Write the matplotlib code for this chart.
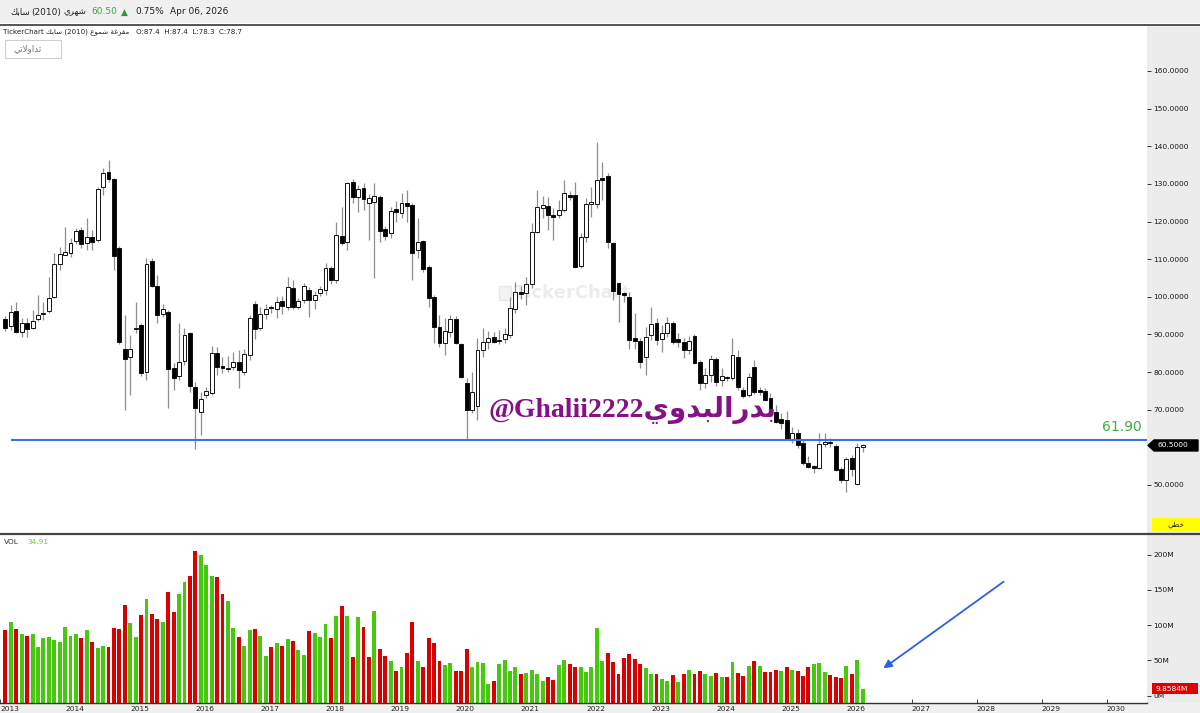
import numpy as np
import matplotlib.pyplot as plt
from matplotlib.patches import Rectangle, Polygon
from matplotlib.lines import Line2D
from matplotlib.transforms import blended_transform_factory

# monthly candles, Feb 2013 .. Apr 2026 (month index 1 = Feb 2013)
opens = [94.1, 92.3, 96.2, 90.7, 93.0, 91.7, 94.1, 95.4, 96.2, 100.0,
         108.7, 111.2, 111.6, 114.8, 117.8, 114.3, 115.9, 115.1, 129.2, 133.2,
         131.3, 113.0, 86.1, 84.0, 91.4, 92.5, 80.0, 109.5, 102.9, 95.4,
         96.0, 81.1, 79.0, 83.0, 90.4, 76.0, 69.4, 74.0, 74.5, 85.1,
         81.5, 80.9, 81.4, 82.7, 80.0, 84.5, 98.1, 91.7, 95.4, 97.1,
         96.8, 98.9, 97.3, 102.4, 97.3, 99.2, 101.8, 99.2, 101.0, 101.8,
         107.7, 104.5, 116.2, 114.6, 130.5, 126.5, 128.9, 124.9, 125.2, 126.5,
         118.0, 117.0, 123.3, 122.3, 125.0, 124.4, 112.4, 114.8, 107.9, 100.0,
         92.0, 87.7, 90.6, 94.1, 87.5, 77.1, 69.9, 71.0, 85.9, 88.0,
         89.3, 88.2, 88.8, 89.9, 96.8, 101.3, 101.0, 103.4, 117.2, 123.6,
         124.1, 121.8, 121.8, 123.1, 127.1, 127.0, 108.2, 115.9, 124.6, 124.7,
         131.6, 132.1, 114.3, 103.7, 101.1, 100.0, 89.1, 88.3, 84.0, 89.9,
         93.0, 88.8, 90.4, 93.0, 88.8, 88.0, 85.9, 89.6, 82.7, 77.1,
         79.3, 83.5, 77.9, 78.3, 78.4, 84.0, 75.2, 73.9, 81.4, 75.2,
         74.9, 73.1, 69.4, 67.5, 67.3, 62.0, 63.8, 61.1, 55.9, 55.0,
         54.6, 60.9, 61.5, 60.4, 54.3, 51.3, 57.1, 50.3, 60.2]
highs = [95.0, 97.8, 98.6, 94.4, 94.4, 96.5, 100.5, 98.6, 105.3, 111.6,
         113.2, 118.5, 115.6, 118.3, 118.5, 120.9, 117.8, 129.1, 134.2, 136.4,
         131.6, 113.5, 95.2, 89.9, 98.6, 93.0, 110.3, 110.3, 105.8, 98.1,
         96.5, 82.4, 93.0, 91.7, 90.6, 77.4, 74.7, 76.0, 87.0, 86.7,
         84.0, 84.4, 85.3, 85.9, 86.0, 95.2, 98.9, 97.4, 98.1, 97.8,
         100.0, 100.2, 105.3, 104.5, 99.7, 103.7, 102.6, 101.6, 103.0, 109.0,
         108.2, 119.9, 123.9, 130.5, 131.3, 129.7, 130.2, 127.3, 130.2, 127.0,
         118.8, 123.9, 125.4, 127.6, 128.4, 124.9, 120.9, 115.1, 108.5, 100.5,
         95.2, 94.4, 95.2, 94.9, 87.7, 78.4, 80.0, 89.1, 91.7, 90.9,
         90.6, 91.2, 91.7, 100.0, 103.9, 102.9, 105.3, 119.6, 128.4, 126.8,
         126.5, 123.6, 125.7, 131.0, 128.1, 130.5, 117.0, 126.2, 129.2, 141.1,
         135.8, 132.9, 114.6, 103.9, 101.3, 101.3, 95.7, 89.1, 92.0, 97.3,
         94.4, 92.5, 94.6, 93.6, 90.4, 89.1, 89.6, 90.1, 83.2, 81.1,
         84.6, 84.0, 81.1, 79.0, 89.1, 85.9, 76.0, 79.8, 83.2, 76.0,
         75.8, 74.4, 71.3, 69.0, 69.6, 65.4, 65.0, 62.0, 57.6, 55.3,
         63.8, 63.8, 62.6, 60.9, 54.8, 57.4, 57.9, 61.2, 60.9]
lows = [91.0, 91.2, 90.4, 89.3, 89.3, 91.5, 93.6, 93.9, 95.7, 99.7,
        107.1, 111.0, 110.6, 114.0, 112.9, 112.4, 112.4, 114.6, 127.1, 130.5,
        107.1, 87.5, 69.9, 73.9, 90.4, 79.0, 77.9, 102.6, 93.0, 94.6,
        70.5, 75.2, 77.9, 81.9, 74.7, 59.6, 63.3, 73.2, 74.0, 79.3,
        79.8, 80.0, 80.6, 75.8, 79.3, 83.2, 88.8, 91.2, 94.1, 95.7,
        94.4, 95.5, 96.5, 96.8, 96.8, 98.4, 94.6, 96.8, 100.2, 100.5,
        103.4, 103.7, 113.8, 112.4, 124.9, 122.5, 123.0, 115.1, 105.0, 114.6,
        115.1, 115.6, 119.9, 121.0, 119.9, 104.5, 110.3, 106.6, 97.3, 87.7,
        86.7, 84.5, 89.3, 87.4, 78.4, 61.9, 69.1, 67.3, 84.0, 86.1,
        87.7, 87.5, 87.7, 89.1, 95.7, 99.4, 97.8, 102.4, 117.0, 121.0,
        117.8, 115.1, 120.9, 122.5, 125.7, 107.7, 107.7, 114.6, 121.2, 123.6,
        125.7, 112.9, 99.2, 93.3, 98.6, 86.1, 86.1, 81.1, 79.3, 88.5,
        87.2, 85.3, 89.3, 87.5, 86.7, 83.8, 84.8, 82.2, 75.2, 75.8,
        77.4, 76.3, 76.3, 77.6, 77.9, 75.2, 73.2, 73.4, 74.2, 74.0,
        72.3, 68.1, 66.5, 65.0, 61.9, 61.2, 59.9, 55.3, 54.6, 53.3,
        54.3, 60.1, 60.1, 53.6, 50.5, 48.1, 52.5, 50.0, 58.8]
closes = [91.7, 96.0, 90.7, 93.1, 91.5, 93.6, 95.2, 95.8, 99.7, 108.7,
          111.4, 111.8, 114.3, 117.5, 114.0, 115.9, 114.6, 128.6, 132.9, 131.3,
          110.8, 88.0, 83.5, 86.1, 91.6, 79.8, 108.7, 102.9, 95.2, 96.8,
          80.8, 78.4, 82.7, 89.9, 76.3, 70.5, 72.9, 75.0, 85.1, 81.4,
          81.1, 81.1, 82.7, 80.6, 84.8, 94.4, 91.5, 95.4, 96.8, 96.9,
          98.6, 97.6, 102.6, 97.3, 98.9, 102.9, 99.2, 100.5, 102.1, 107.7,
          104.5, 116.4, 114.3, 130.2, 126.5, 128.6, 126.0, 126.2, 126.8, 117.5,
          116.2, 122.8, 122.5, 124.9, 124.1, 111.6, 114.6, 107.4, 99.7, 92.0,
          87.7, 90.9, 94.1, 87.7, 78.7, 69.9, 74.7, 85.9, 88.0, 89.1,
          88.0, 88.4, 90.1, 97.0, 101.3, 100.8, 103.4, 117.2, 123.9, 124.4,
          121.8, 121.2, 123.1, 127.6, 126.5, 107.9, 115.9, 124.7, 125.2, 131.0,
          131.0, 114.6, 101.6, 100.8, 100.5, 88.5, 88.3, 82.7, 89.3, 92.8,
          88.5, 90.4, 93.0, 88.0, 88.0, 85.9, 88.3, 82.4, 77.1, 79.3,
          83.5, 77.4, 79.0, 78.5, 84.6, 76.0, 73.7, 78.7, 74.7, 74.7,
          72.6, 69.1, 66.7, 66.5, 62.0, 63.8, 60.6, 55.9, 54.8, 54.6,
          60.9, 61.5, 61.1, 54.0, 51.3, 56.9, 54.3, 60.05, 60.5]

# volume in millions
volumes = [93.2, 104.5, 94.2, 87.1, 84.7, 88.0, 68.6, 81.8, 83.7, 78.6,
           76.2, 97.9, 84.7, 87.1, 81.8, 92.8, 76.2, 67.7, 70.5, 69.5,
           95.6, 94.6, 128.7, 103.1, 83.7, 114.5, 136.7, 115.5, 108.4, 104.5,
           146.7, 119.1, 144.3, 160.8, 169.4, 205.2, 199.6, 185.8, 169.4, 167.9,
           144.3, 134.3, 95.6, 82.8, 70.0, 93.2, 94.6, 84.7, 56.3, 68.6,
           74.8, 70.5, 80.4, 77.1, 64.4, 57.7, 91.8, 89.4, 82.8, 101.3,
           81.8, 112.6, 126.8, 112.6, 54.5, 111.2, 97.0, 54.5, 120.1, 66.2,
           56.3, 48.8, 34.6, 41.2, 60.1, 105.0, 49.7, 40.2, 81.4, 74.3,
           49.7, 43.5, 46.8, 34.6, 34.6, 66.2, 41.2, 47.3, 46.8, 16.1,
           21.3, 45.4, 50.2, 34.6, 41.2, 30.3, 31.7, 36.5, 30.3, 21.3,
           27.0, 22.3, 43.1, 50.6, 44.5, 40.2, 41.2, 33.6, 41.2, 96.0,
           48.7, 60.1, 47.8, 31.2, 53.5, 58.7, 52.1, 44.5, 39.3, 30.3,
           30.3, 23.7, 20.4, 28.9, 19.4, 30.3, 36.5, 30.3, 35.5, 30.3,
           27.9, 31.7, 26.1, 26.1, 47.3, 31.7, 27.9, 42.1, 49.2, 42.1,
           33.6, 33.6, 36.0, 35.5, 40.2, 36.9, 34.6, 27.9, 40.2, 45.4,
           46.4, 33.6, 28.9, 27.0, 24.6, 42.1, 31.2, 51.1, 9.8584]
vol_up = [0, 1, 0, 1, 0, 1, 1, 1, 1, 1,
          1, 1, 1, 1, 0, 1, 0, 1, 1, 0,
          0, 0, 0, 1, 1, 0, 1, 0, 0, 1,
          0, 0, 1, 1, 0, 0, 1, 1, 1, 0,
          0, 1, 1, 0, 1, 1, 0, 1, 1, 0,
          1, 0, 1, 0, 1, 1, 0, 1, 1, 1,
          0, 1, 0, 1, 0, 1, 0, 0, 1, 0,
          0, 1, 0, 1, 0, 0, 1, 0, 0, 0,
          0, 1, 1, 0, 0, 0, 1, 1, 1, 1,
          0, 1, 1, 1, 1, 0, 1, 1, 1, 1,
          0, 0, 1, 1, 0, 0, 1, 1, 1, 1,
          1, 0, 0, 0, 0, 0, 0, 0, 1, 1,
          0, 1, 1, 0, 1, 0, 1, 0, 0, 1,
          1, 0, 1, 0, 1, 0, 0, 1, 0, 1,
          0, 0, 0, 1, 0, 1, 0, 0, 0, 1,
          1, 1, 0, 0, 0, 1, 0, 1, 1]

years = list(range(2013, 2031))
price_ticks = [50, 70, 80, 90, 100, 110, 120, 130, 140, 150, 160]  # 60 sits under the last-price tag
vol_ticks = [0, 50, 100, 150, 200]
support_level = 61.90
vol_indicator = 34.91

months = np.arange(1, len(closes) + 1)

W, H = 1200, 713
fig = plt.figure(figsize=(12, 7.13), dpi=100)
fig.patch.set_facecolor('white')


def fx(x):
    return x / W


def fy(y):
    return 1 - y / H


# ---- background pieces (behind the axes)
fig.add_artist(Rectangle((fx(1147), 0), fx(53), fy(25), transform=fig.transFigure,
                         fc='#ececec', ec='none', zorder=-2))
fig.add_artist(Rectangle((0, 0), 1, fy(703), transform=fig.transFigure,
                         fc='#f0f0f0', ec='none', zorder=-2))
fig.add_artist(Rectangle((0, fy(23)), 1, 1 - fy(23), transform=fig.transFigure,
                         fc='#f0f0f0', ec='none', zorder=-2))

# ---- axes
ax = fig.add_axes([0, fy(533), fx(1147), fy(25) - fy(533)])
axv = fig.add_axes([0, fy(703), fx(1147), fy(537) - fy(703)], sharex=ax)
for a in (ax, axv):
    for s in a.spines.values():
        s.set_visible(False)
    a.set_facecolor('white')

ax.set_xlim(0.625, 211.4)
ax.set_ylim(37.24, 172.22)
axv.set_ylim(-10.35, 225.1)

# ---- candles (hollow style)
ax.vlines(months, lows, highs, color='#8f8f8f', lw=0.9, zorder=1)
for m, o, c in zip(months, opens, closes):
    lo = min(o, c)
    h = max(abs(c - o), 0.3)
    up = c >= o
    ax.add_patch(Rectangle((m - 0.36, lo), 0.72, h, fc='white' if up else 'black',
                           ec='#111111', lw=0.7, zorder=2))

# support line
ax.hlines(support_level, 2.1, 211.4, color='#3b6ef0', lw=1.5, zorder=3)
ax.text(210.4, support_level + 1.6, f'{support_level:.2f}', color='#3fae3f',
        fontsize=10, ha='right', va='bottom', zorder=4)

# watermarks
ax.text(94.8, 101.0, 'TickerChart', color='#ececec', fontsize=13, fontweight='bold',
        ha='left', va='center', zorder=0)
ax.add_patch(Rectangle((92.0, 99.2), 2.2, 3.6, fc='#f3f3f3', ec='#e8e8e8', lw=1, zorder=0))
ax.text(90.1, 69.9, '@Ghalii2222' + 'ﻱﻭﺪﺒﻟﺍﺭﺪﺑ', color='#861186',
        fontsize=20, fontweight='bold', family=['Liberation Serif', 'DejaVu Sans'],
        ha='left', va='center', zorder=4)

# price axis on the right
ax.yaxis.tick_right()
ax.set_yticks(price_ticks)
ax.set_yticklabels([f'{p:.4f}' for p in price_ticks])
ax.tick_params(axis='y', direction='out', length=3, pad=1.5, labelsize=5.4,
               colors='#1a1a1a', width=0.6)
ax.tick_params(axis='x', bottom=False, labelbottom=False)

# ---- volume
vols = np.array(volumes)
floor = axv.get_ylim()[0]
axv.bar(months, vols - floor, bottom=floor, width=0.72,
        color=['#46c80c' if u else '#d90000' for u in vol_up], lw=0, zorder=2)
axv.yaxis.tick_right()
axv.set_yticks(vol_ticks)
axv.set_yticklabels([f'{v}M' for v in vol_ticks])
axv.tick_params(axis='y', direction='out', length=3, pad=1.5, labelsize=5.4,
                colors='#1a1a1a', width=0.6)

axv.set_xticks([12 * (y - 2013) for y in years])
axv.set_xticklabels([str(y) for y in years])
axv.tick_params(axis='x', direction='in', length=3, pad=2.5, labelsize=5.4,
                colors='#222222', width=0.6)
for lbl in axv.get_xticklabels():
    lbl.set_ha('left')

axv.text(0.003, 0.985, 'VOL', transform=axv.transAxes, fontsize=5.4, color='#333333',
         ha='left', va='top')
axv.text(0.024, 0.985, f'{vol_indicator:.2f}', transform=axv.transAxes, fontsize=5.4,
         color='#66cc33', ha='left', va='top')

# arrow pointing at the last volume bar
axv.annotate('', xy=(162.4, 36.5), xytext=(185.4, 164.1),
             arrowprops=dict(arrowstyle='-|>', color='#2d5ee8', lw=1.3, mutation_scale=12),
             zorder=5)

# ---- frame lines
for yy, lw, col in [(24.5, 1.4, '#555555'), (533.5, 1.6, '#444444')]:
    fig.add_artist(Line2D([0, 1], [fy(yy), fy(yy)], transform=fig.transFigure,
                          color=col, lw=lw, zorder=3))
fig.add_artist(Line2D([0, fx(1147)], [fy(703), fy(703)], transform=fig.transFigure,
                      color='#333333', lw=1.0, zorder=3))

# ---- last-price tag on the price scale
bt = blended_transform_factory(fig.transFigure, ax.transData)
last = closes[-1]
hh = 5.5 / 3.7636
fig.add_artist(Polygon([(fx(1148), last), (fx(1154), last + hh), (fx(1198), last + hh),
                        (fx(1198), last - hh), (fx(1154), last - hh)],
                       closed=True, transform=bt, fc='black', ec='black', zorder=5))
fig.text(fx(1157), last, f'{last:.4f}', transform=bt, color='white', fontsize=5.4,
         ha='left', va='center', zorder=6)

# last volume tag
bv = blended_transform_factory(fig.transFigure, axv.transData)
vh = 5.5 / 0.705
fig.add_artist(Rectangle((fx(1152), volumes[-1] - vh), fx(46), 2 * vh, transform=bv,
                         fc='#e00000', ec='none', zorder=5))
fig.text(fx(1155), volumes[-1], f'{volumes[-1]:.4f}M', transform=bv, color='white',
         fontsize=5.4, ha='left', va='center', zorder=6)

# chart-type label
fig.add_artist(Rectangle((fx(1152), fy(531)), fx(48), fy(518) - fy(531),
                         transform=fig.transFigure, fc='#ffff00', ec='none', zorder=5))
fig.text(fx(1176), fy(524.5), 'ﻲﻄﺧ', fontsize=5.4, color='#222222',
         ha='center', va='center', zorder=6)

# ---- header
chg = (closes[-1] / closes[-2] - 1) * 100
hy = fy(12)
fig.text(fx(10), hy, 'ﻚﺑﺎﺳ', fontsize=6.3, color='#222222', va='center')
fig.text(fx(31), hy, '(2010)', fontsize=6.5, color='#222222', va='center')
fig.text(fx(63), hy, 'ﻱﺮﻬﺷ', fontsize=6.3, color='#222222', va='center')
fig.text(fx(91), hy, f'{closes[-1]:.2f}', fontsize=6.5, color='#3aa83a', va='center')
fig.text(fx(121), hy, '▲', fontsize=6.5, color='#2e9a2e', va='center')
fig.text(fx(135), hy, f'{chg:.2f}%', fontsize=6.5, color='#222222', va='center')
fig.text(fx(170), hy, 'Apr 06, 2026', fontsize=6.5, color='#222222', va='center')

fig.text(fx(3), fy(31.5), 'TickerChart ﻚﺑﺎﺳ (2010) ﻉﻮﻤﺷ ﺔﻏﺮﻔﻣ   O:87.4  H:87.4  L:78.3  C:78.7',
         fontsize=5.1, color='#222222', va='center')

fig.add_artist(Rectangle((fx(5), fy(58)), fx(56), fy(40) - fy(58), transform=fig.transFigure,
                         fc='white', ec='#cfcfcf', lw=0.8, zorder=5))
fig.text(fx(13), fy(49), 'ﻲﺗﻻﻭﺍﺪﺗ', fontsize=6.3, color='#777777', va='center', zorder=6)

fig.savefig('out.png', dpi=100)
